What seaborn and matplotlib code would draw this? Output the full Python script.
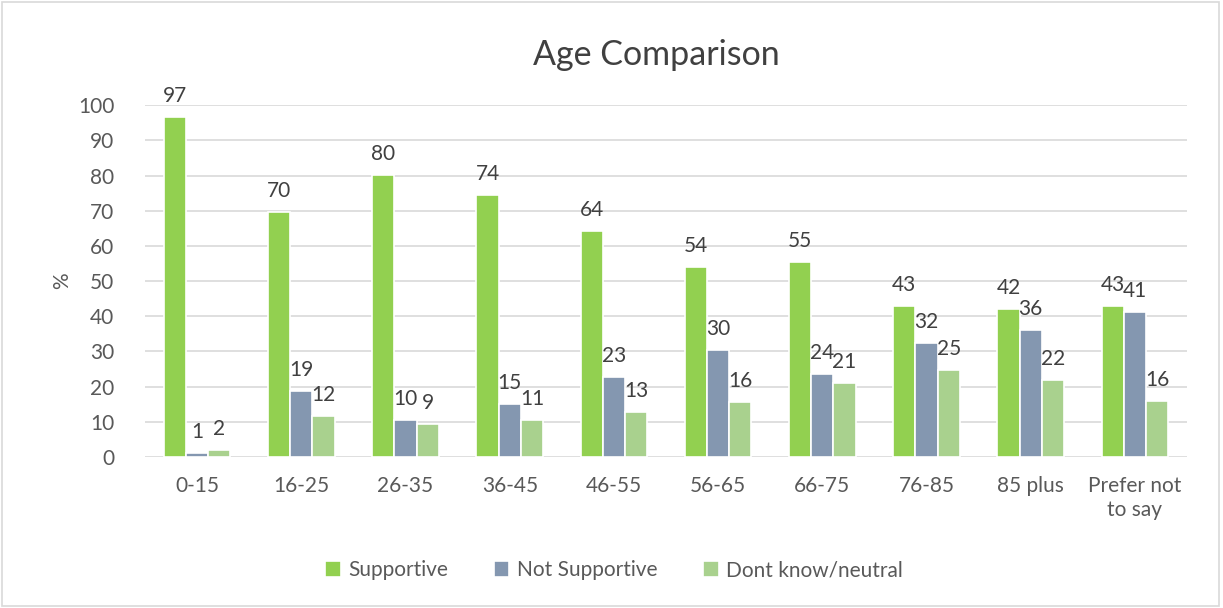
import pandas as pd
import matplotlib.pyplot as plt
import seaborn as sns
from matplotlib.patches import Rectangle

# Data
age_groups = ['0-15', '16-25', '26-35', '36-45', '46-55', '56-65', '66-75', '76-85', '85 plus', 'Prefer not\nto say']
supportive = [96.6, 69.5, 80.2, 74.4, 64.2, 54.0, 55.3, 42.8, 42.1, 43.0]
not_supportive = [1.2, 18.8, 10.4, 15.0, 22.8, 30.4, 23.6, 32.4, 36.1, 41.1]
neutral = [2.0, 11.7, 9.4, 10.6, 12.8, 15.6, 21.0, 24.8, 21.9, 16.0]
series_names = ['Supportive', 'Not Supportive', 'Dont know/neutral']
colors = ['#92D050', '#8497B0', '#A9D18E']

df = pd.DataFrame({'Age': age_groups, series_names[0]: supportive,
                   series_names[1]: not_supportive, series_names[2]: neutral})
long_df = df.melt(id_vars='Age', var_name='Response', value_name='Percent')

sns.set_style('white')
plt.rcParams['font.family'] = ['Lato', 'DejaVu Sans']

fig = plt.figure(figsize=(12.23, 6.08), dpi=100)
ax = fig.add_axes([0.1186, 0.2484, 0.852, 0.5786])

sns.barplot(data=long_df, x='Age', y='Percent', hue='Response', palette=colors,
            saturation=1, width=0.64, edgecolor='white', linewidth=1.2, ax=ax, legend=True)

for cont in ax.containers:
    ax.bar_label(cont, fmt='%.0f', padding=8, fontsize=15, color='#404040')

ax.set_ylim(0, 100)
ax.set_yticks(range(0, 101, 10))
ax.set_xlim(-0.5, len(age_groups) - 0.5)
ax.grid(axis='y', color='#D9D9D9', linewidth=1.2)
ax.set_axisbelow(True)
for s in ax.spines.values():
    s.set_visible(False)
ax.tick_params(axis='y', length=0, labelsize=15, colors='#595959', pad=22)
ax.tick_params(axis='x', length=0, labelsize=15, colors='#595959', pad=14)
ax.set_xlabel('')
ax.set_ylabel('%', fontsize=15, color='#595959', labelpad=4)

ax.set_title('Age Comparison', fontsize=24.5, color='#404040', pad=29, x=0.491)

ax.legend(loc='upper center', bbox_to_anchor=(0.45, -0.24), ncol=3, frameon=False,
          fontsize=15, labelcolor='#595959', handlelength=0.75, handleheight=0.75,
          columnspacing=2.2, handletextpad=0.35)

fig.patches.append(Rectangle((0.002, 0.003), 0.995, 0.993, transform=fig.transFigure,
                             fill=False, edgecolor='#D9D9D9', linewidth=1.2))

fig.savefig('out.png', dpi=100)
